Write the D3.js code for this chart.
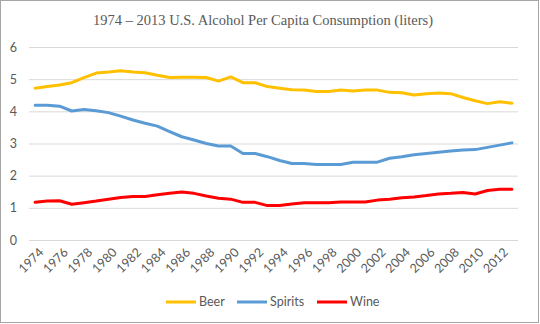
<!DOCTYPE html>
<html>
<head>
<meta charset="utf-8">
<script src="https://cdn.jsdelivr.net/npm/d3@7"></script>
<style>
  body { margin: 0; background: #fff; }
  svg { display: block; }
  .tick text { fill: #595959; font-family: Lato, "Liberation Sans", sans-serif; font-size: 12.5px; }
</style>
</head>
<body>
<div id="chart"></div>
<script>
// datos (litros per capita)
var years = d3.range(1974, 2014);
var beer = [4.72, 4.77, 4.82, 4.89, 5.05, 5.19, 5.22, 5.26, 5.22, 5.2, 5.12, 5.05,
            5.06, 5.06, 5.05, 4.94, 5.07, 4.89, 4.89, 4.77, 4.72, 4.67, 4.66, 4.62,
            4.62, 4.66, 4.63, 4.66, 4.66, 4.59, 4.58, 4.51, 4.55, 4.57, 4.55, 4.43,
            4.33, 4.24, 4.3, 4.25];
var spirits = [4.19, 4.19, 4.16, 4.01, 4.06, 4.02, 3.96, 3.85, 3.73, 3.63, 3.54, 3.37,
               3.21, 3.11, 3.0, 2.92, 2.92, 2.69, 2.69, 2.59, 2.47, 2.38, 2.38, 2.35,
               2.35, 2.35, 2.42, 2.42, 2.42, 2.54, 2.59, 2.65, 2.69, 2.73, 2.77, 2.8,
               2.81, 2.88, 2.95, 3.02];
var wine = [1.17, 1.21, 1.22, 1.11, 1.16, 1.21, 1.27, 1.32, 1.35, 1.35, 1.41, 1.45,
            1.49, 1.45, 1.37, 1.3, 1.27, 1.17, 1.17, 1.07, 1.07, 1.12, 1.16, 1.16,
            1.16, 1.18, 1.18, 1.18, 1.24, 1.27, 1.31, 1.34, 1.38, 1.43, 1.45, 1.48,
            1.43, 1.54, 1.58, 1.58];
var yTicks = [0, 1, 2, 3, 4, 5, 6];
var seriesNames = ["Beer", "Spirits", "Wine"];
var seriesColors = ["#FFC000", "#5B9BD5", "#FF0000"];

var W = 540, H = 324;
var margin = {top: 47, right: 22, bottom: 84, left: 29};

var svg = d3.select("#chart").append("svg")
    .attr("width", W)
    .attr("height", H);

// borde del area del grafico
svg.append("rect")
    .attr("x", 0.5).attr("y", 0.5)
    .attr("width", W - 2).attr("height", H - 2)
    .attr("fill", "#fff")
    .attr("stroke", "#a6a6a6");

var x = d3.scaleBand().domain(years).range([margin.left, W - margin.right]).padding(0);
var y = d3.scaleLinear().domain([0, 6]).range([H - margin.bottom, margin.top]);

function cx(yr) { return x(yr) + x.bandwidth() / 2; }

// titulo
svg.append("text")
    .attr("x", 263).attr("y", 25)
    .attr("text-anchor", "middle")
    .attr("fill", "#595959")
    .style("font-family", "'Liberation Serif', 'Times New Roman', serif")
    .style("font-size", "14.5px")
    .text("1974 \u2013 2013 U.S.  Alcohol Per Capita Consumption (liters)");

// eje Y con lineas de cuadricula
var yAxis = svg.append("g")
    .attr("transform", "translate(" + margin.left + ",0)")
    .call(d3.axisLeft(y).tickValues(yTicks).tickFormat(d3.format("d"))
        .tickSize(-(W - margin.left - margin.right)).tickPadding(12));
yAxis.select(".domain").remove();
yAxis.selectAll(".tick line").attr("stroke", "#d9d9d9").attr("stroke-width", 1);

// eje X, etiquetas cada 2 anos giradas
var xAxis = svg.append("g")
    .attr("transform", "translate(0," + (H - margin.bottom) + ")")
    .call(d3.axisBottom(x).tickValues(years.filter(function(d) { return d % 2 === 0; })).tickSize(0));
xAxis.select(".domain").remove();
xAxis.selectAll(".tick text")
    .attr("text-anchor", "end")
    .attr("dy", "0.35em")
    .attr("transform", "translate(4,8) rotate(-45)");

// lineas
var line = d3.line()
    .x(function(d, i) { return cx(years[i]); })
    .y(function(d) { return y(d); });

[beer, spirits, wine].forEach(function(s, i) {
    svg.append("path")
        .datum(s)
        .attr("fill", "none")
        .attr("stroke", seriesColors[i])
        .attr("stroke-width", 3)
        .attr("stroke-linejoin", "round")
        .attr("stroke-linecap", "round")
        .attr("d", line);
});

// leyenda
var legX = [166, 237, 317];
var leg = svg.append("g");
seriesNames.forEach(function(n, i) {
    leg.append("line")
        .attr("x1", legX[i]).attr("x2", legX[i] + 30)
        .attr("y1", 302).attr("y2", 302)
        .attr("stroke", seriesColors[i])
        .attr("stroke-width", 3);
    leg.append("text")
        .attr("x", legX[i] + 33).attr("y", 306)
        .attr("fill", "#595959")
        .style("font-family", "Lato, 'Liberation Sans', sans-serif")
        .style("font-size", "12.5px")
        .text(n);
});
</script>
</body>
</html>
